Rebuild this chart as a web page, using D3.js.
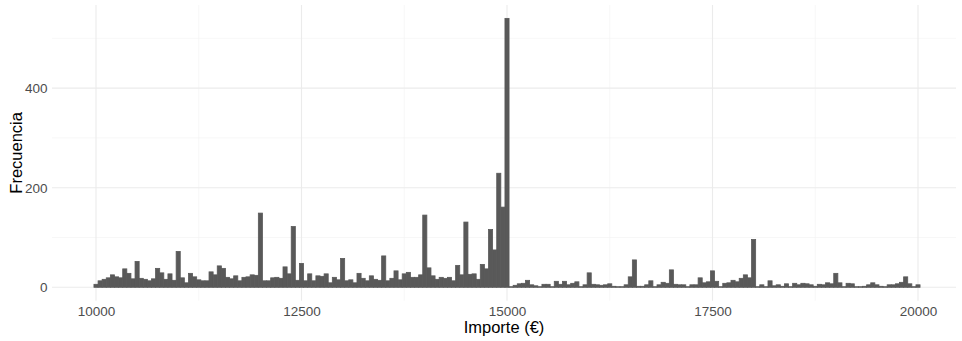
<!DOCTYPE html>
<html>
<head>
<meta charset="utf-8">
<script src="https://cdn.jsdelivr.net/npm/d3@7"></script>
<style>
  html, body { margin: 0; padding: 0; background: #ffffff; }
  svg { display: block; }
  text { font-family: "Liberation Sans", Arial, sans-serif; }
</style>
</head>
<body>
<svg id="chart" width="962" height="341"></svg>
<script>
// Histogram of amounts, 50 € bins centred on multiples of 50
const binWidth = 50;
const binCenters = d3.range(10000, 20001, binWidth);
const counts = [
  6, 13, 16, 19, 25, 21, 19, 37, 28, 17,
  52, 18, 16, 13, 17, 38, 29, 16, 27, 14,
  72, 19, 9, 28, 21, 15, 13, 13, 31, 25,
  43, 38, 20, 17, 23, 13, 20, 21, 25, 24,
  149, 13, 13, 19, 20, 18, 41, 27, 122, 14,
  48, 13, 27, 13, 23, 22, 27, 9, 20, 15,
  58, 13, 15, 9, 28, 18, 13, 23, 16, 14,
  63, 13, 18, 33, 15, 27, 30, 20, 20, 25,
  145, 39, 23, 16, 20, 18, 20, 13, 44, 25,
  131, 26, 27, 16, 46, 37, 116, 75, 229, 161,
  540, 1, 4, 7, 8, 14, 5, 3, 0, 6,
  6, 0, 12, 6, 12, 5, 8, 11, 0, 5,
  29, 6, 5, 4, 5, 7, 2, 1, 0, 5,
  21, 55, 2, 2, 5, 13, 0, 5, 10, 8,
  35, 6, 5, 5, 0, 5, 5, 19, 9, 11,
  33, 12, 1, 8, 9, 14, 11, 18, 25, 19,
  96, 0, 5, 0, 13, 3, 5, 2, 7, 0,
  8, 5, 8, 7, 5, 2, 6, 5, 9, 7,
  28, 9, 0, 8, 7, 0, 0, 2, 5, 9,
  5, 2, 0, 5, 5, 7, 10, 21, 7, 0,
  5
];
const xTicks = [10000, 12500, 15000, 17500, 20000];
const xMinorTicks = [11250, 13750, 16250, 18750];
const yTicks = [0, 200, 400];
const yMinorTicks = [100, 300, 500];

const panel = { left: 52, right: 956, top: 5, bottom: 300.7 };

const svg = d3.select("#chart");

const x = d3.scaleLinear().domain([10000, 20000]).range([96, 918]);
const y = d3.scaleLinear().domain([0, 500]).range([287.3, 38.3]);

// grid
const grid = svg.append("g");
grid.selectAll("line.ymin").data(yMinorTicks).join("line")
  .attr("x1", panel.left).attr("x2", panel.right)
  .attr("y1", d => y(d)).attr("y2", d => y(d))
  .attr("stroke", "#f2f2f2").attr("stroke-width", 0.6);
grid.selectAll("line.xmin").data(xMinorTicks).join("line")
  .attr("y1", panel.top).attr("y2", panel.bottom)
  .attr("x1", d => x(d)).attr("x2", d => x(d))
  .attr("stroke", "#f2f2f2").attr("stroke-width", 0.6);
grid.selectAll("line.ymaj").data(yTicks).join("line")
  .attr("x1", panel.left).attr("x2", panel.right)
  .attr("y1", d => y(d)).attr("y2", d => y(d))
  .attr("stroke", "#ebebeb").attr("stroke-width", 1.1);
grid.selectAll("line.xmaj").data(xTicks).join("line")
  .attr("y1", panel.top).attr("y2", panel.bottom)
  .attr("x1", d => x(d)).attr("x2", d => x(d))
  .attr("stroke", "#ebebeb").attr("stroke-width", 1.1);

// bars (a thin same-colour stroke closes the seams between neighbours)
const bins = binCenters.map((c, i) => ({ c, n: counts[i] }));
const y0 = y(0);
svg.append("g").selectAll("rect").data(bins).join("rect")
  .attr("x", d => x(d.c - binWidth / 2))
  .attr("width", d => x(d.c + binWidth / 2) - x(d.c - binWidth / 2))
  .attr("y", d => Math.min(y(d.n), y0 - 0.6))
  .attr("height", d => Math.max(y0 - y(d.n), 0.6))
  .attr("fill", "#595959")
  .attr("stroke", "#595959")
  .attr("stroke-width", 0.8);

// axes
const xAxis = d3.axisBottom(x).tickValues(xTicks).tickSize(0).tickPadding(5.5)
  .tickFormat(d3.format("d"));
const gx = svg.append("g").attr("transform", `translate(0,${panel.bottom})`).call(xAxis);
gx.select(".domain").remove();
gx.selectAll("text").attr("fill", "#4d4d4d").style("font-size", "13.5px")
  .style("font-family", "Liberation Sans, Arial, sans-serif");

const yAxis = d3.axisLeft(y).tickValues(yTicks).tickSize(0).tickPadding(4.5);
const gy = svg.append("g").attr("transform", `translate(${panel.left},0)`).call(yAxis);
gy.select(".domain").remove();
gy.selectAll("text").attr("fill", "#4d4d4d").style("font-size", "13.5px")
  .style("font-family", "Liberation Sans, Arial, sans-serif");

// axis titles
svg.append("text")
  .attr("x", (panel.left + panel.right) / 2).attr("y", 333)
  .attr("text-anchor", "middle").attr("fill", "#000")
  .style("font-size", "16.5px")
  .text("Importe (€)");
svg.append("text")
  .attr("transform", `translate(21.5,${(panel.top + panel.bottom) / 2}) rotate(-90)`)
  .attr("text-anchor", "middle").attr("fill", "#000")
  .style("font-size", "16.5px")
  .text("Frecuencia");
</script>
</body>
</html>
